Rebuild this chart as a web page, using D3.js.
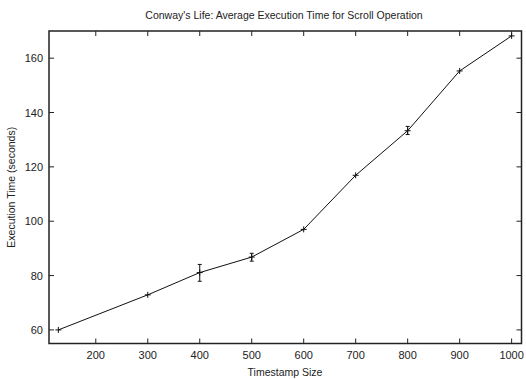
<!DOCTYPE html>
<html><head><meta charset="utf-8">
<script src="https://cdn.jsdelivr.net/npm/d3@7"></script>
<style>body{margin:0;background:#fff}svg{display:block}text{font-family:"Liberation Sans",Arial,sans-serif;fill:#222}</style>
</head><body>
<svg id="c" width="526" height="379"></svg>
<script>
const sizes = [128, 300, 400, 500, 600, 700, 800, 900, 1000];
const times = [60, 72.9, 81.1, 86.8, 97, 116.9, 133.3, 155.3, 168.2];
const errLow = [60, 72.7, 77.9, 85.3, 96.8, 116.7, 131.9, 155.0, 168.0];
const errHigh = [60, 73.1, 84.1, 88.2, 97.2, 117.1, 134.9, 155.6, 168.4];
const xTicks = [200, 300, 400, 500, 600, 700, 800, 900, 1000];
const yTicks = [60, 80, 100, 120, 140, 160];

const svg = d3.select("#c");
const L = 49, R = 521.5, T = 31, B = 343.5;
const x = d3.scaleLinear().domain([110, 1019]).range([L, R]);
const y = d3.scaleLinear().domain([55, 170]).range([B, T]);

const tl = 5;
const g = svg.append("g").attr("stroke", "#222").attr("stroke-width", 1);
xTicks.forEach(v => {
  g.append("line").attr("x1", x(v)).attr("x2", x(v)).attr("y1", B).attr("y2", B - tl);
  g.append("line").attr("x1", x(v)).attr("x2", x(v)).attr("y1", T).attr("y2", T + tl);
});
yTicks.forEach(v => {
  g.append("line").attr("x1", L).attr("x2", L + tl).attr("y1", y(v)).attr("y2", y(v));
  g.append("line").attr("x1", R).attr("x2", R - tl).attr("y1", y(v)).attr("y2", y(v));
});
svg.append("rect").attr("x", L).attr("y", T).attr("width", R - L).attr("height", B - T)
  .attr("fill", "none").attr("stroke", "#222").attr("stroke-width", 1.5);

xTicks.forEach(v => svg.append("text").attr("x", x(v)).attr("y", 359).attr("text-anchor", "middle")
  .attr("font-size", 11).text(v));
yTicks.forEach(v => svg.append("text").attr("x", 43).attr("y", y(v) + 4).attr("text-anchor", "end")
  .attr("font-size", 11).text(v));

svg.append("text").attr("x", 284).attr("y", 19).attr("text-anchor", "middle").attr("font-size", 10.5).text("Conway's Life: Average Execution Time for Scroll Operation");
svg.append("text").attr("x", 285).attr("y", 376).attr("text-anchor", "middle").attr("font-size", 10.5).text("Timestamp Size");
svg.append("text").attr("transform", `translate(15,${(T + B) / 2}) rotate(-90)`).attr("text-anchor", "middle").attr("font-size", 10.5).text("Execution Time (seconds)");

const data = sizes.map((s, i) => ({s, t: times[i], lo: errLow[i], hi: errHigh[i]}));
svg.append("path").datum(data).attr("fill", "none").attr("stroke", "#111").attr("stroke-width", 1)
  .attr("d", d3.line().x(d => x(d.s)).y(d => y(d.t)));

const m = svg.append("g").attr("stroke", "#111").attr("stroke-width", 1);
data.forEach(d => {
  const cx = x(d.s), cy = y(d.t);
  if (y(d.lo) - y(d.hi) > 2) {
    m.append("line").attr("x1", cx).attr("x2", cx).attr("y1", y(d.lo)).attr("y2", y(d.hi));
    m.append("line").attr("x1", cx - 2).attr("x2", cx + 2).attr("y1", y(d.lo)).attr("y2", y(d.lo));
    m.append("line").attr("x1", cx - 2).attr("x2", cx + 2).attr("y1", y(d.hi)).attr("y2", y(d.hi));
  }
  m.append("line").attr("x1", cx - 3).attr("x2", cx + 3).attr("y1", cy).attr("y2", cy);
  m.append("line").attr("x1", cx).attr("x2", cx).attr("y1", cy - 3).attr("y2", cy + 3);
});
</script>
</body></html>
